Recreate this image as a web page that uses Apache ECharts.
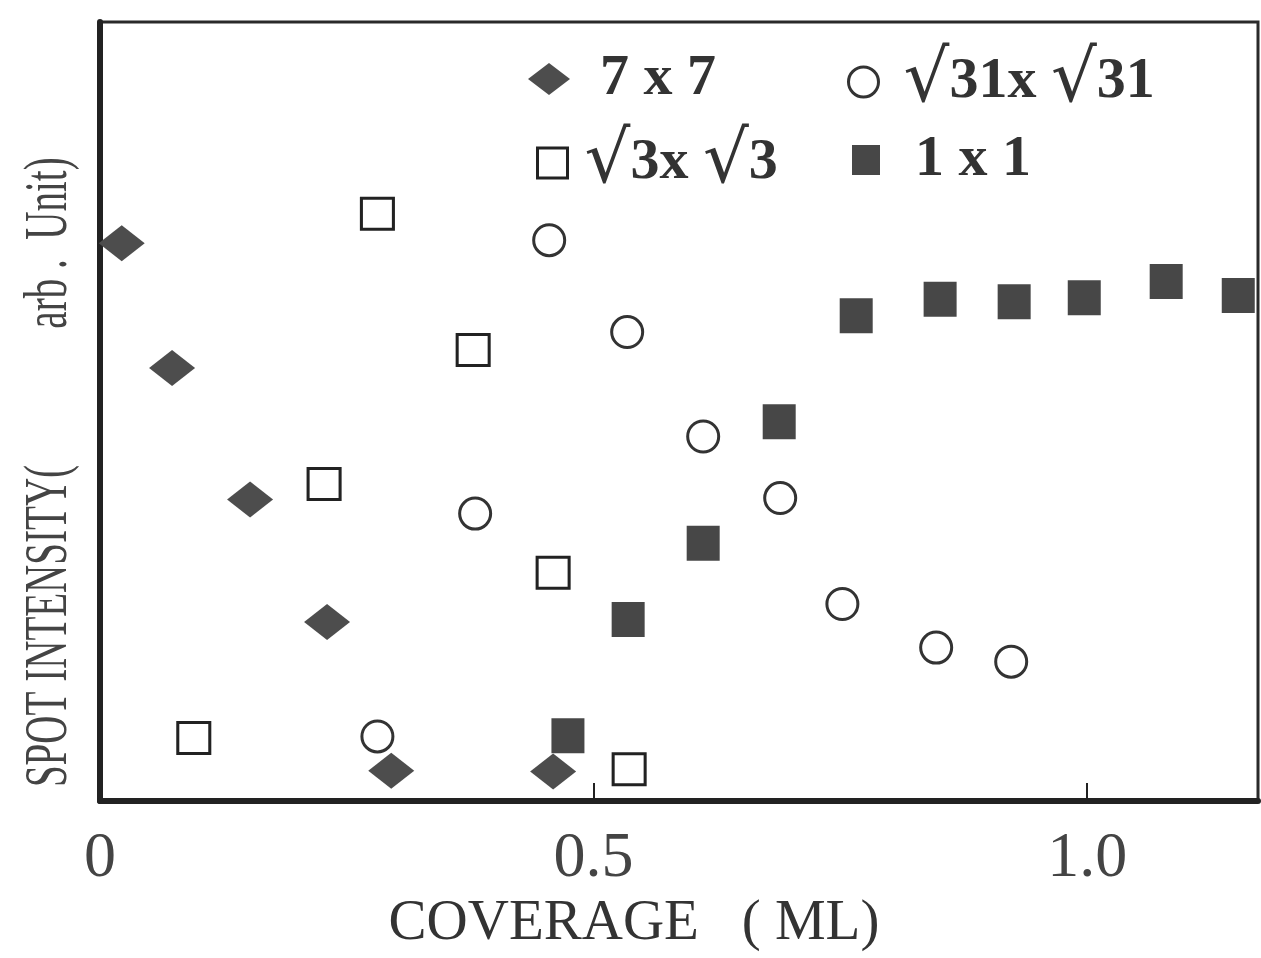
<!DOCTYPE html>
<html>
<head>
<meta charset="utf-8">
<script src="https://cdn.jsdelivr.net/npm/echarts@6/dist/echarts.min.js"></script>
<style>
html,body{margin:0;padding:0;background:#fff;}
#chart{width:1261px;height:958px;}
</style>
</head>
<body>
<div id="chart"></div>
<script>
// ---- data (coverage in ML, intensity in arbitrary units) ----
const seriesNames = ['7 x 7', '\u221A31x \u221A31', '\u221A3x \u221A3', '1 x 1'];

const cov7x7 = [0.022, 0.073, 0.152, 0.230, 0.295, 0.459];
const int7x7 = [71.6, 55.6, 38.7, 23.0, 3.9, 3.8];

const cov31 = [0.281, 0.380, 0.455, 0.534, 0.611, 0.689, 0.752, 0.847, 0.923];
const int31 = [8.3, 36.9, 72.0, 60.2, 46.8, 38.9, 25.3, 19.7, 17.9];

const cov3 = [0.095, 0.227, 0.281, 0.378, 0.459, 0.536];
const int3 = [8.1, 40.7, 75.4, 57.9, 29.3, 4.1];

const cov1x1 = [0.474, 0.535, 0.611, 0.688, 0.766, 0.851, 0.926, 0.997, 1.080, 1.153];
const int1x1 = [8.4, 23.3, 33.1, 48.7, 62.3, 64.4, 64.1, 64.6, 66.7, 64.9];

const xTickValues = [0, 0.5, 1.0];
const xAxisTitle = 'COVERAGE   ( ML)';
const yTitleA = 'SPOT INTENSITY(';
const yTitleB = 'arb .  Unit)';

function pairs(xs, ys) { return xs.map((x, i) => [x, ys[i]]); }

const serif = '"Liberation Serif", "DejaVu Serif", serif';
const chart = echarts.init(document.getElementById('chart'));

const legendRich = {
  r: { fontFamily: '"DejaVu Serif", serif', fontSize: 72, fontWeight: 'normal', color: '#333' }
};
function legendFmt(name) { return name.replace(/\u221A/g, '{r|\u221A}'); }
function legendText(padLeft) {
  return { fontFamily: serif, fontSize: 58, fontWeight: 'bold', color: '#333', padding: [0, 0, 0, padLeft], rich: legendRich };
}

chart.setOption({
  animation: false,
  backgroundColor: '#ffffff',
  grid: { left: 100, right: 3, top: 22, bottom: 150, show: true, borderColor: '#2a2a2a', borderWidth: 3, backgroundColor: 'transparent' },
  xAxis: {
    type: 'value', min: 0, max: 1.173, interval: 0.5,
    splitLine: { show: false },
    axisLine: { onZero: false, lineStyle: { color: '#222', width: 6 } },
    axisTick: { inside: true, length: 18, lineStyle: { color: '#222', width: 2 } },
    axisLabel: {
      fontFamily: serif, fontSize: 64, color: '#444', margin: 26,
      showMaxLabel: false,
      formatter: v => xTickValues.indexOf(v) >= 0 ? (v === 0 ? '0' : v.toFixed(1)) : ''
    },
    name: xAxisTitle, nameLocation: 'middle', nameGap: 92,
    nameTextStyle: { fontFamily: serif, fontSize: 57, color: '#333', padding: [0, 90, 0, 0] }
  },
  yAxis: {
    type: 'value', min: 0, max: 100,
    splitLine: { show: false },
    axisLine: { onZero: false, lineStyle: { color: '#222', width: 6 } },
    axisTick: { show: false },
    axisLabel: { show: false }
  },
  legend: [
    { data: [{ name: seriesNames[0], icon: 'diamond', itemStyle: { color: '#4d4d4d', borderWidth: 0 } }],
      left: 528, top: 50, padding: 0, itemWidth: 42, itemHeight: 32, symbolKeepAspect: false,
      formatter: legendFmt, textStyle: legendText(25) },
    { data: [{ name: seriesNames[1], icon: 'circle', itemStyle: { color: '#fff', borderColor: '#333', borderWidth: 3 } }],
      left: 847, top: 46, padding: 0, itemWidth: 30, itemHeight: 30, symbolKeepAspect: false,
      formatter: legendFmt, textStyle: legendText(20) },
    { data: [{ name: seriesNames[2], icon: 'rect', itemStyle: { color: '#fff', borderColor: '#222', borderWidth: 3 } }],
      left: 536, top: 127, padding: 0, itemWidth: 30, itemHeight: 30, symbolKeepAspect: false,
      formatter: legendFmt, textStyle: legendText(12) },
    { data: [{ name: seriesNames[3], icon: 'rect', itemStyle: { color: '#474747', borderWidth: 0 } }],
      left: 852, top: 131, padding: 0, itemWidth: 28, itemHeight: 30, symbolKeepAspect: false,
      formatter: legendFmt, textStyle: legendText(30) }
  ],
  graphic: [
    { type: 'text', x: 50, y: 626, rotation: Math.PI / 2, scaleX: 0.63, scaleY: 1,
      style: { text: yTitleA, fontFamily: serif, fontSize: 62, fill: '#444', align: 'center', verticalAlign: 'middle', textAlign: 'center', textVerticalAlign: 'middle' } },
    { type: 'text', x: 50, y: 243, rotation: Math.PI / 2, scaleX: 0.63, scaleY: 1,
      style: { text: yTitleB, fontFamily: serif, fontSize: 62, fill: '#444', align: 'center', verticalAlign: 'middle', textAlign: 'center', textVerticalAlign: 'middle' } }
  ],
  series: [
    { name: seriesNames[0], type: 'scatter', data: pairs(cov7x7, int7x7),
      symbol: 'diamond', symbolSize: [46, 36], itemStyle: { color: '#4d4d4d', opacity: 1 } },
    { name: seriesNames[1], type: 'scatter', data: pairs(cov31, int31),
      symbol: 'circle', symbolSize: 31, itemStyle: { color: '#fff', borderColor: '#333', borderWidth: 3, opacity: 1 } },
    { name: seriesNames[2], type: 'scatter', data: pairs(cov3, int3),
      symbol: 'rect', symbolSize: [32, 31], itemStyle: { color: '#fff', borderColor: '#222', borderWidth: 3, opacity: 1 } },
    { name: seriesNames[3], type: 'scatter', data: pairs(cov1x1, int1x1),
      symbol: 'rect', symbolSize: [33, 35], itemStyle: { color: '#474747', opacity: 1 } }
  ]
});
</script>
</body>
</html>
